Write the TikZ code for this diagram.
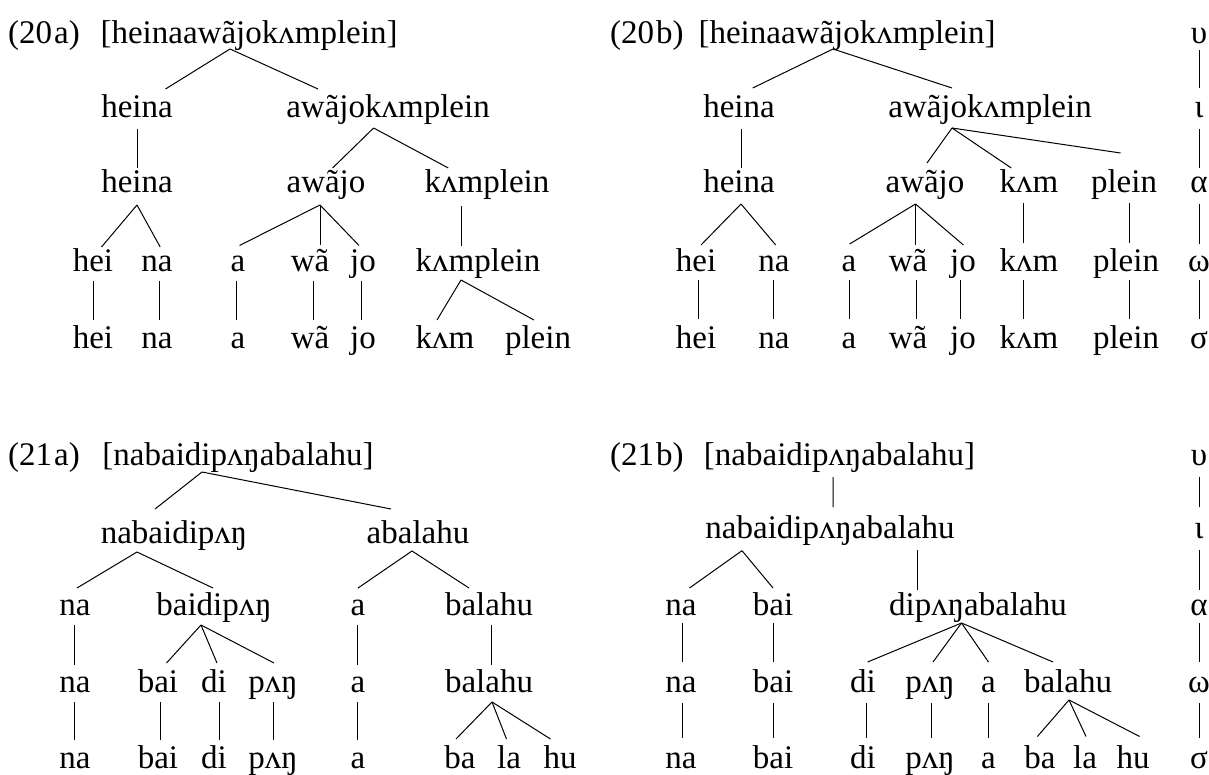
\documentclass[tikz,border=0pt]{standalone}
\usepackage{fontspec}
\setmainfont{Liberation Serif}
\tikzset{
  w/.style={anchor=base, inner sep=0pt, font=\fontsize{33}{38}\selectfont},
  lab/.style={anchor=base west, inner sep=0pt, font=\fontsize{33}{38}\selectfont},
  tree/.style={line width=1pt, black}
}
\newcommand\tedge[6]{\draw[tree] ([shift={(#2,#3)}]#1.base) -- ([shift={(#5,#6)}]#4.base);}
\begin{document}
\begin{tikzpicture}[x=1pt,y=-1pt]
\useasboundingbox (0,0) rectangle (1209,775);
% ---------------- (20a)
\node[lab] (L20a) at (8,44) {(20\kern2pt a)};
\node[w] (A0) at (249,44) {[heinaawãjokʌmplein]};
\node[w] (A1) at (137,118) {heina};
\node[w] (A2) at (388,118) {awãjokʌmplein};
\node[w] (A3) at (137,193) {heina};
\node[w] (A4) at (326,193) {awãjo};
\node[w] (A5) at (487,193) {kʌmplein};
\node[w] (A6) at (93,272) {hei};
\node[w] (A7) at (157,272) {na};
\node[w] (A8) at (238,272) {a};
\node[w] (A9) at (310,272) {wã};
\node[w] (A10) at (363,272) {jo};
\node[w] (A11) at (478,272) {kʌmplein};
\node[w] (A12) at (93,348) {hei};
\node[w] (A13) at (157,348) {na};
\node[w] (A14) at (238,348) {a};
\node[w] (A15) at (310,348) {wã};
\node[w] (A16) at (363,348) {jo};
\node[w] (A17) at (445,348) {kʌm};
\node[w] (A18) at (538,348) {plein};
\tedge{A0}{-19}{5}{A1}{28.5}{-29}
\tedge{A0}{-19}{5}{A2}{-70}{-29}
\tedge{A1}{0}{11}{A3}{0}{-25}
\tedge{A2}{-14.4}{10}{A4}{6.6}{-25}
\tedge{A2}{-14.4}{10}{A5}{-38.7}{-25}
\tedge{A3}{0}{12}{A6}{8.5}{-25}
\tedge{A3}{0}{12}{A7}{3.2}{-25}
\tedge{A4}{-6}{12}{A8}{1.5}{-26.5}
\tedge{A4}{-6}{12}{A9}{10}{-26.5}
\tedge{A4}{-6}{12}{A10}{-4}{-26.5}
\tedge{A5}{-26}{13.5}{A11}{-17}{-26}
\tedge{A6}{0}{9}{A12}{0}{-28}
\tedge{A7}{2}{9}{A13}{2}{-28}
\tedge{A8}{-2}{9}{A14}{-2}{-28}
\tedge{A9}{3}{9}{A15}{3}{-28}
\tedge{A10}{-2}{9}{A16}{-2}{-28}
\tedge{A11}{-17}{8}{A17}{-8}{-28}
\tedge{A11}{-17}{8}{A18}{-4}{-28}
% ---------------- (20b)
\node[lab] (L20b) at (610,44) {(20\kern2pt b)};
\node[w] (B0) at (847,44) {[heinaawãjokʌmplein]};
\node[w] (B1) at (739,118) {heina};
\node[w] (B2) at (990,118) {awãjokʌmplein};
\node[w] (B3) at (739,193) {heina};
\node[w] (B4) at (925,193) {awãjo};
\node[w] (B5) at (1029,193) {kʌm};
\node[w] (B6) at (1124,193) {plein};
\node[w] (B7) at (696,272) {hei};
\node[w] (B8) at (774,272) {na};
\node[w] (B9) at (849,272) {a};
\node[w] (B10) at (908,272) {wã};
\node[w] (B11) at (963,272) {jo};
\node[w] (B12) at (1029,272) {kʌm};
\node[w] (B13) at (1126,272) {plein};
\node[w] (B14) at (696,348) {hei};
\node[w] (B15) at (774,348) {na};
\node[w] (B16) at (849,348) {a};
\node[w] (B17) at (908,348) {wã};
\node[w] (B18) at (963,348) {jo};
\node[w] (B19) at (1029,348) {kʌm};
\node[w] (B20) at (1126,348) {plein};
\node[w] (G1) at (1199,44) {υ};
\node[w] (G2) at (1199,118) {ι};
\node[w] (G3) at (1199,193) {α};
\node[w] (G4) at (1199,272) {ω};
\node[w] (G5) at (1199,348) {σ};
\tedge{B0}{-14}{5}{B1}{13.7}{-30}
\tedge{B0}{-14}{5}{B2}{-38}{-30}
\tedge{B1}{2}{11}{B3}{2}{-25}
\tedge{B2}{-38}{10}{B4}{2}{-30}
\tedge{B2}{-38}{10}{B5}{-17.7}{-25}
\tedge{B2}{-38}{10}{B6}{-3.5}{-40}
\tedge{B3}{2}{11}{B7}{5}{-27}
\tedge{B3}{2}{11}{B8}{1.7}{-27}
\tedge{B4}{-9.5}{11}{B9}{0.6}{-28}
\tedge{B4}{-9.5}{11}{B10}{7.5}{-27}
\tedge{B4}{-9.5}{11}{B11}{0.4}{-27}
\tedge{B5}{-6}{10}{B12}{-6}{-28.5}
\tedge{B6}{5}{10}{B13}{3}{-28.5}
\tedge{B7}{2}{8}{B14}{2}{-29}
\tedge{B8}{-1}{8}{B15}{-1}{-29}
\tedge{B9}{0}{8}{B16}{0}{-29}
\tedge{B10}{8}{8}{B17}{8}{-29}
\tedge{B11}{-3}{8}{B18}{-3}{-29}
\tedge{B12}{-6}{8}{B19}{-6}{-29}
\tedge{B13}{3}{8}{B20}{3}{-29}
\tedge{G1}{0}{6}{G2}{0}{-30}
\tedge{G2}{0}{11}{G3}{0}{-25}
\tedge{G3}{0}{11}{G4}{0}{-28}
\tedge{G4}{0}{8}{G5}{0}{-29}
% ---------------- (21a)
\node[lab] (L21a) at (8,465) {(21\kern2pt a)};
\node[w] (C0) at (238,465) {[nabaidipʌŋabalahu]};
\node[w] (C1) at (174,543) {nabaidipʌŋ};
\node[w] (C2) at (418,543) {abalahu};
\node[w] (C3) at (75,615) {na};
\node[w] (C4) at (214,615) {baidipʌŋ};
\node[w] (C5) at (358,615) {a};
\node[w] (C6) at (489,615) {balahu};
\node[w] (C7) at (75,692) {na};
\node[w] (C8) at (158,692) {bai};
\node[w] (C9) at (214,692) {di};
\node[w] (C10) at (273,692) {pʌŋ};
\node[w] (C11) at (358,692) {a};
\node[w] (C12) at (489,692) {balahu};
\node[w] (C13) at (75,768) {na};
\node[w] (C14) at (158,768) {bai};
\node[w] (C15) at (214,768) {di};
\node[w] (C16) at (273,768) {pʌŋ};
\node[w] (C17) at (358,768) {a};
\node[w] (C18) at (460,768) {ba};
\node[w] (C19) at (509,768) {la};
\node[w] (C20) at (560,768) {hu};
\tedge{C0}{-36}{7}{C1}{-19}{-34}
\tedge{C0}{-36}{7}{C2}{-27}{-34}
\tedge{C1}{-37}{9}{C3}{2}{-27}
\tedge{C1}{-37}{9}{C4}{-1}{-27}
\tedge{C2}{-6}{8}{C5}{0}{-27}
\tedge{C2}{-6}{8}{C6}{-20}{-27}
\tedge{C3}{-1}{10}{C7}{-1}{-27}
\tedge{C4}{-13}{10}{C8}{8.5}{-29}
\tedge{C4}{-13}{10}{C9}{3}{-29}
\tedge{C4}{-13}{10}{C10}{1}{-29}
\tedge{C5}{-1}{10}{C11}{-1}{-27}
\tedge{C6}{2}{10}{C12}{2}{-27}
\tedge{C7}{-1}{10}{C13}{-1}{-28}
\tedge{C8}{2}{10}{C14}{2}{-28}
\tedge{C9}{5}{10}{C15}{5}{-28}
\tedge{C10}{0}{10}{C16}{0}{-28}
\tedge{C11}{-1}{10}{C17}{-1}{-28}
\tedge{C12}{3}{10}{C18}{-4}{-29}
\tedge{C12}{3}{10}{C19}{-2.5}{-29}
\tedge{C12}{3}{10}{C20}{-9.5}{-29}
% ---------------- (21b)
\node[lab] (L21b) at (610,465) {(21\kern2pt b)};
\node[w] (D0) at (839.5,465) {[nabaidipʌŋabalahu]};
\node[w] (D1) at (830,538) {nabaidipʌŋabalahu};
\node[w] (D2) at (681,615) {na};
\node[w] (D3) at (773,615) {bai};
\node[w] (D4) at (978,615) {dipʌŋabalahu};
\node[w] (D5) at (681,692) {na};
\node[w] (D6) at (773,692) {bai};
\node[w] (D7) at (863,692) {di};
\node[w] (D8) at (930,692) {pʌŋ};
\node[w] (D9) at (988.5,692) {a};
\node[w] (D10) at (1068,692) {balahu};
\node[w] (D11) at (681,768) {na};
\node[w] (D12) at (773,768) {bai};
\node[w] (D13) at (863,768) {di};
\node[w] (D14) at (930,768) {pʌŋ};
\node[w] (D15) at (988.5,768) {a};
\node[w] (D16) at (1040,768) {ba};
\node[w] (D17) at (1085,768) {la};
\node[w] (D18) at (1133,768) {hu};
\node[w] (H1) at (1199,465) {υ};
\node[w] (H2) at (1199,538) {ι};
\node[w] (H3) at (1199,615) {α};
\node[w] (H4) at (1199,692) {ω};
\node[w] (H5) at (1199,768) {σ};
\tedge{D0}{-6.4}{12}{D1}{3}{-31}
\tedge{D1}{-88}{12.7}{D2}{8.5}{-27}
\tedge{D1}{-88}{12.7}{D3}{0}{-27}
\tedge{D1}{87.4}{12}{D4}{-60.6}{-25}
\tedge{D2}{1}{8}{D5}{1}{-30}
\tedge{D3}{0}{8}{D6}{0}{-30}
\tedge{D4}{-16.5}{8}{D7}{4.6}{-30}
\tedge{D4}{-16.5}{8}{D8}{3}{-30}
\tedge{D4}{-16.5}{8}{D9}{0}{-30}
\tedge{D4}{-16.5}{8}{D10}{-15}{-30}
\tedge{D5}{1}{11}{D11}{1}{-30}
\tedge{D6}{0}{11}{D12}{0}{-30}
\tedge{D7}{3.5}{11}{D13}{3.5}{-30}
\tedge{D8}{1}{11}{D14}{1}{-30}
\tedge{D9}{0}{11}{D15}{0}{-30}
\tedge{D10}{1}{8}{D16}{-2.6}{-31.5}
\tedge{D10}{1}{8}{D17}{1}{-31.5}
\tedge{D10}{1}{8}{D18}{6.6}{-31.5}
\tedge{H1}{0}{12}{H2}{0}{-31}
\tedge{H2}{0}{12}{H3}{0}{-25}
\tedge{H3}{0}{8}{H4}{0}{-30}
\tedge{H4}{0}{11}{H5}{0}{-30}
\end{tikzpicture}
\end{document}
